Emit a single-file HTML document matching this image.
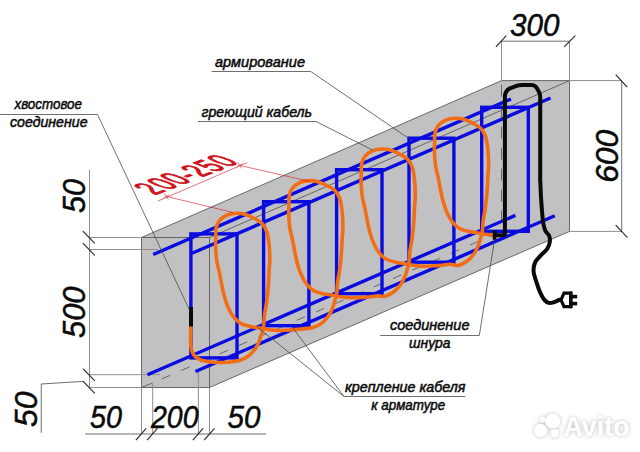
<!DOCTYPE html>
<html lang="ru">
<head>
<meta charset="utf-8">
<title>Схема укладки греющего кабеля</title>
<style>
html,body{margin:0;padding:0;background:#fff;}
body{width:640px;height:452px;overflow:hidden;font-family:"Liberation Sans",sans-serif;}
svg{display:block;}
</style>
</head>
<body>
<svg width="640" height="452" viewBox="0 0 640 452">
<polygon points="141.5,237.5 501.5,80.6 569.5,80.6 569.5,231.4 209.5,387.5 141.5,387.5" fill="#c1c1c3"/>
<g fill="none" stroke="#5a5a5a" stroke-width="0.9">
<path d="M141.5 237.5L501.5 80.6L569.5 80.6L569.5 231.4L209.5 387.5L141.5 387.5Z"/>
<path d="M141.5 237.5L209.5 237.5L209.5 387.5"/>
<path d="M209.5 237.5L569.5 80.6"/>
</g>
<g fill="none" stroke="#5a5a5a" stroke-width="0.9">
<path d="M141.5 387.5L152.5 383" />
<path d="M152.5 383L501.5 231.4" stroke-dasharray="9 12" stroke-dashoffset="-10.3"/>
<path d="M501.5 80.6L501.5 231.4" stroke-dasharray="12 9" stroke-dashoffset="-4"/>
</g>
<g fill="none" stroke="#8f8f8f" stroke-width="1">
<path d="M501.5 41V80.6M569.5 41V80.6"/>
<path d="M569.5 80.6H621.7M569.5 231.4H621.7"/>
<path d="M89.5 237.5H141.5M89.5 249.5H158M89.5 374.7H160M89.5 387.5H141.5"/>
<path d="M89.5 170V387.5"/>
<path d="M141.5 387V434M152.7 383.5V434M198.4 372V434M209.5 387V434"/>
</g>
<g fill="none" stroke="#6e6e6e" stroke-width="1">
<path d="M501.5 41.2H569.5"/>
<path d="M621.7 80.7V231.4"/>
<path d="M85 434H266"/>
<path d="M83.1 381.4L41.25 384V432.75"/>
</g>
<g fill="none" stroke="#2e2e2e" stroke-width="1.2">
<path d="M495.9 46.9L506.3 35.7M564.2 46.9L575.3 35.6"/>
<path d="M615.7 74.6L627.2 87.2M615.7 225.2L627.5 237.6"/>
<path d="M82.9 231.2L94.8 243.4"/>
<path d="M82.9 243.2L94.8 255.4"/>
<path d="M82.9 368.7L94.8 380.9"/>
<path d="M82.9 381.2L94.8 393.4"/>
<path d="M135.9 440.2L146.2 428.4"/>
<path d="M147.1 440.2L157.4 428.4"/>
<path d="M192.8 440.2L203.1 428.4"/>
<path d="M204.2 440.2L214.5 428.4"/>
</g>
<g fill="none" stroke="#0b0be0" stroke-width="3.4" stroke-linecap="butt">
<rect x="190.9" y="233.9" width="46.1" height="124"/>
<rect x="263.6" y="201.7" width="45.3" height="124"/>
<rect x="336.6" y="169.7" width="45.4" height="124"/>
<rect x="409.0" y="138.2" width="44.9" height="124"/>
<rect x="481.7" y="107.3" width="46.6" height="124"/>
<path d="M153.2 254.5L511 99"/>
<path d="M192 253.3L550.6 98"/>
<path d="M147.5 374.75L515.4 215.4"/>
<path d="M195.5 371.5L554.8 215.7"/>
</g>
<path d="M190.9 325.6C190.8 328.2 190.5 337.1 190.6 341.2C190.7 345.4 190.9 348.0 191.7 350.6C192.5 353.2 193.6 355.2 195.6 356.9C197.6 358.6 200.3 359.9 203.4 360.8C206.5 361.7 210.5 362.1 214.4 362.3C218.3 362.6 222.7 362.6 226.9 362.3C231.1 362.0 235.8 361.6 239.4 360.5C243.0 359.4 246.0 357.9 248.8 355.8C251.5 353.7 254.0 350.6 255.8 348.0C257.6 345.4 258.7 342.8 259.7 340.2C260.7 337.6 261.4 334.8 262.0 332.4C262.6 330.0 263.2 328.9 263.6 326.1C264.0 323.3 263.9 319.9 264.4 315.8C264.9 311.7 266.0 306.7 266.7 301.8C267.4 296.8 267.9 291.3 268.3 286.1C268.7 280.9 268.9 274.8 269.1 270.5C269.4 266.2 269.8 264.5 269.8 260.2C269.8 255.9 269.6 249.4 269.1 244.6C268.6 239.8 267.9 234.8 266.7 231.3C265.5 227.8 263.9 225.6 262.0 223.5C260.1 221.4 257.7 220.3 255.0 218.8C252.3 217.3 248.7 215.5 245.6 214.6C242.5 213.7 239.4 213.2 236.2 213.3C233.1 213.4 229.6 214.0 226.9 215.2C224.2 216.4 221.6 218.3 219.8 220.3C218.0 222.3 216.9 224.7 216.2 227.4C215.6 230.1 215.9 233.6 215.8 236.8C215.7 239.9 215.4 242.2 215.6 246.1C215.8 250.0 216.0 255.7 216.7 260.2C217.3 264.7 218.7 269.2 219.5 273.0C220.3 276.8 220.6 279.0 221.4 283.0C222.2 287.0 223.3 292.9 224.5 297.1C225.7 301.3 226.8 304.6 228.4 308.0C230.0 311.4 231.8 314.8 233.9 317.4C236.0 320.0 238.2 322.1 240.9 323.6C243.6 325.1 247.5 325.8 250.3 326.5C253.2 327.2 255.1 327.2 258.0 327.7C260.9 328.2 263.8 329.0 267.5 329.5C271.2 330.0 275.8 330.4 280.0 330.5C284.2 330.6 288.3 330.2 292.5 329.9C296.7 329.6 301.7 329.0 305.0 328.6C308.3 328.2 309.7 328.7 312.5 327.8C315.3 326.9 319.1 325.2 321.9 323.1C324.6 321.0 327.1 317.9 328.9 315.3C330.7 312.7 331.8 310.1 332.8 307.5C333.8 304.9 334.4 302.0 335.1 299.7C335.8 297.4 336.3 296.2 336.7 293.4C337.1 290.6 337.0 287.2 337.5 283.1C338.0 279.0 339.1 274.0 339.8 269.1C340.4 264.1 341.0 258.6 341.4 253.4C341.8 248.2 342.0 242.1 342.2 237.8C342.5 233.5 342.9 231.8 342.9 227.5C342.9 223.2 342.7 216.7 342.2 211.9C341.7 207.1 341.0 202.1 339.8 198.6C338.6 195.1 337.1 192.9 335.1 190.8C333.2 188.7 330.8 187.6 328.1 186.1C325.4 184.6 321.8 182.8 318.7 181.9C315.6 181.0 312.5 180.5 309.4 180.6C306.2 180.7 302.7 181.3 300.0 182.5C297.3 183.7 294.7 185.6 292.9 187.6C291.1 189.6 290.0 192.0 289.4 194.7C288.7 197.4 289.0 200.9 288.9 204.1C288.8 207.2 288.6 209.5 288.7 213.4C288.8 217.3 289.1 223.0 289.8 227.5C290.4 232.0 291.8 236.5 292.6 240.3C293.4 244.1 293.7 246.3 294.5 250.3C295.3 254.3 296.4 260.2 297.6 264.4C298.8 268.6 299.9 271.9 301.5 275.3C303.1 278.7 304.9 282.1 307.0 284.7C309.1 287.3 311.3 289.4 314.0 290.9C316.7 292.4 320.5 293.1 323.4 293.8C326.2 294.5 328.2 294.5 331.1 295.0C334.0 295.5 336.9 296.3 340.6 296.8C344.3 297.3 348.9 297.7 353.1 297.8C357.3 297.9 361.4 297.5 365.6 297.2C369.8 296.9 374.9 296.1 378.1 295.9C381.3 295.7 382.2 296.9 384.9 296.2C387.6 295.5 391.5 293.6 394.2 291.5C397.0 289.4 399.5 286.3 401.3 283.7C403.1 281.1 404.2 278.5 405.2 275.9C406.2 273.3 406.9 270.4 407.5 268.1C408.1 265.8 408.7 264.6 409.1 261.8C409.5 259.0 409.4 255.6 409.9 251.5C410.4 247.4 411.5 242.4 412.2 237.4C412.9 232.5 413.4 227.0 413.8 221.8C414.2 216.6 414.4 210.5 414.6 206.2C414.9 201.9 415.3 200.2 415.3 195.9C415.3 191.6 415.1 185.1 414.6 180.3C414.1 175.5 413.4 170.5 412.2 167.0C411.0 163.5 409.4 161.3 407.5 159.2C405.6 157.1 403.2 156.0 400.5 154.5C397.8 153.0 394.2 151.2 391.1 150.3C388.0 149.4 384.9 148.9 381.8 149.0C378.6 149.1 375.1 149.7 372.4 150.9C369.7 152.1 367.1 154.0 365.3 156.0C363.5 158.0 362.4 160.4 361.8 163.1C361.1 165.8 361.4 169.3 361.3 172.4C361.2 175.6 361.0 177.9 361.1 181.8C361.2 185.7 361.6 191.4 362.2 195.9C362.8 200.4 364.2 204.9 365.0 208.7C365.8 212.5 366.1 214.7 366.9 218.7C367.7 222.7 368.8 228.6 370.0 232.8C371.2 237.0 372.3 240.3 373.9 243.7C375.5 247.1 377.3 250.5 379.4 253.1C381.5 255.7 383.7 257.8 386.4 259.3C389.1 260.8 392.9 261.5 395.8 262.2C398.7 262.9 400.6 262.9 403.5 263.4C406.4 263.9 409.3 264.7 413.0 265.2C416.7 265.7 421.3 266.1 425.5 266.2C429.7 266.3 433.8 265.9 438.0 265.6C442.2 265.3 447.1 264.3 450.5 264.3C453.9 264.3 455.4 266.1 458.2 265.5C461.0 264.9 464.8 262.9 467.6 260.8C470.3 258.7 472.8 255.6 474.6 253.0C476.4 250.4 477.5 247.8 478.5 245.2C479.5 242.6 480.1 239.7 480.8 237.4C481.5 235.0 482.0 233.9 482.4 231.1C482.8 228.3 482.7 224.9 483.2 220.8C483.7 216.7 484.9 211.7 485.5 206.8C486.1 201.8 486.7 196.3 487.1 191.1C487.5 185.9 487.7 179.8 487.9 175.5C488.2 171.2 488.6 169.5 488.6 165.2C488.6 160.9 488.4 154.4 487.9 149.6C487.4 144.8 486.7 139.8 485.5 136.3C484.3 132.8 482.8 130.6 480.8 128.5C478.9 126.4 476.5 125.3 473.8 123.8C471.1 122.3 467.5 120.5 464.4 119.6C461.3 118.7 458.2 118.2 455.1 118.3C451.9 118.4 448.4 119.0 445.7 120.2C443.0 121.4 440.4 123.3 438.6 125.3C436.8 127.3 435.7 129.7 435.1 132.4C434.4 135.1 434.7 138.6 434.6 141.8C434.5 144.9 434.2 147.2 434.4 151.1C434.5 155.0 434.9 160.7 435.5 165.2C436.1 169.7 437.5 174.2 438.3 178.0C439.1 181.8 439.4 184.0 440.2 188.0C441.0 192.0 442.1 197.9 443.3 202.1C444.5 206.3 445.6 209.6 447.2 213.0C448.8 216.4 450.6 219.8 452.7 222.4C454.8 225.0 457.0 227.1 459.7 228.6C462.4 230.1 466.2 230.8 469.1 231.5C472.0 232.2 474.2 232.2 476.8 232.7C479.4 233.2 482.1 233.9 485.0 234.3C487.9 234.7 492.5 235.0 494.0 235.2" fill="none" stroke="#f26d14" stroke-width="3.6" stroke-linecap="round" stroke-linejoin="round"/>
<rect x="189" y="307" width="4" height="19.5" fill="#0a0a0a"/>
<rect x="492.7" y="230.6" width="3.8" height="9.2" fill="#0a0a0a"/>
<path d="M494.6 235.2H504.9V97C504.9 93 506.5 90.3 509.5 88.6L516.5 85.9C518.5 85.2 520 85 522 85H531C533.5 85 535 85.6 536.3 87.2L538.8 91.5C539.8 93.3 540.2 95 540.2 97.5V180" fill="none" stroke="#0a0a0a" stroke-width="4" stroke-linejoin="round"/>
<path d="M540.2 180.0C540.4 183.3 540.7 193.1 541.2 200.0C541.7 206.9 542.3 216.2 543.0 221.3C543.7 226.4 544.2 228.2 545.2 230.6C546.2 233.0 548.5 233.9 549.2 235.9C550.0 237.9 550.1 240.3 549.7 242.5C549.3 244.7 548.5 247.0 547.0 249.2C545.5 251.4 542.4 253.6 540.4 255.8C538.4 258.0 536.2 259.8 535.1 262.4C534.0 265.0 533.4 268.6 533.6 271.7C533.8 274.8 535.0 277.6 536.1 281.0C537.2 284.4 538.6 289.0 540.0 292.1C541.4 295.2 542.9 298.1 544.4 299.9C545.9 301.7 547.2 302.5 548.8 302.9C550.4 303.3 552.0 302.8 553.8 302.3C555.6 301.8 558.7 300.1 559.7 299.7" fill="none" stroke="#0a0a0a" stroke-width="4" stroke-linecap="round"/>
<path d="M561 299.9L564 293.2H570.6V306.6H564Z" fill="#fff" stroke="#0a0a0a" stroke-width="3.2" stroke-linejoin="miter"/>
<rect x="569.2" y="291.6" width="3.4" height="16.6" fill="#0a0a0a"/>
<rect x="572" y="294.8" width="5.2" height="3.6" fill="#0a0a0a"/><rect x="572" y="301.8" width="5.2" height="3.6" fill="#0a0a0a"/>
<g fill="none" stroke="#4a4a4a" stroke-width="0.8">
<path d="M0 114.5H97.5L189.5 310"/>
<path d="M211.7 71.5H310.8L408.8 138.5"/>
<path d="M198 121.5H316L372.5 150"/>
<path d="M380.2 335.5H479.3L494.6 239.5"/>
<path d="M465.4 396.5H344L256.3 326.3M344 396.5L292.5 327.5"/>
</g>
<g fill="none" stroke="#d0121b" stroke-width="0.7" opacity="0.85">
<path d="M157.9 201.1L247.2 162.6"/>
<path d="M166.3 196.4L233 212.5M239.7 165.4L310 181.5"/>
<path d="M164.3 193.4L168.3 199.4M163.5 198L169.1 194.8M237.7 162.4L241.7 168.4M236.9 167L242.5 163.8"/>
</g>
<g font-family="'Liberation Sans', sans-serif" stroke="#0a0a0a" stroke-width="0.5">
<text x="510" y="36" font-size="32" font-style="italic" font-weight="400" fill="#0a0a0a" textLength="49.5" lengthAdjust="spacingAndGlyphs">300</text>
<text x="0" y="0" transform="translate(85,213) rotate(-90)" font-size="32" font-style="italic" font-weight="400" fill="#0a0a0a" textLength="34" lengthAdjust="spacingAndGlyphs">50</text>
<text x="0" y="0" transform="translate(84.9,338) rotate(-90)" font-size="32" font-style="italic" font-weight="400" fill="#0a0a0a" textLength="51.5" lengthAdjust="spacingAndGlyphs">500</text>
<text x="0" y="0" transform="translate(37,427) rotate(-90)" font-size="32" font-style="italic" font-weight="400" fill="#0a0a0a" textLength="35.5" lengthAdjust="spacingAndGlyphs">50</text>
<text x="0" y="0" transform="translate(617.5,182.8) rotate(-90)" font-size="32" font-style="italic" font-weight="400" fill="#0a0a0a" textLength="53" lengthAdjust="spacingAndGlyphs">600</text>
<text x="90" y="428" font-size="32" font-style="italic" font-weight="400" fill="#0a0a0a" textLength="32" lengthAdjust="spacingAndGlyphs">50</text>
<text x="151" y="428" font-size="32" font-style="italic" font-weight="400" fill="#0a0a0a" textLength="47.5" lengthAdjust="spacingAndGlyphs">200</text>
<text x="227.6" y="428" font-size="32" font-style="italic" font-weight="400" fill="#0a0a0a" textLength="33" lengthAdjust="spacingAndGlyphs">50</text>
<text x="14.5" y="108.8" font-size="14.5" font-style="italic" font-weight="400" fill="#0a0a0a" textLength="67.5" lengthAdjust="spacingAndGlyphs">хвостовое</text>
<text x="10" y="127.3" font-size="14.5" font-style="italic" font-weight="400" fill="#0a0a0a" textLength="77.5" lengthAdjust="spacingAndGlyphs">соединение</text>
<text x="215" y="67.2" font-size="14.5" font-style="italic" font-weight="400" fill="#0a0a0a" textLength="90" lengthAdjust="spacingAndGlyphs">армирование</text>
<text x="201.5" y="116.6" font-size="14.5" font-style="italic" font-weight="400" fill="#0a0a0a" textLength="110.5" lengthAdjust="spacingAndGlyphs">греющий кабель</text>
<text x="390" y="330.2" font-size="14.5" font-style="italic" font-weight="400" fill="#0a0a0a" textLength="79.5" lengthAdjust="spacingAndGlyphs">соединение</text>
<text x="409" y="348.3" font-size="14.5" font-style="italic" font-weight="400" fill="#0a0a0a" textLength="41.5" lengthAdjust="spacingAndGlyphs">шнура</text>
<text x="345" y="391.6" font-size="14.5" font-style="italic" font-weight="400" fill="#0a0a0a" textLength="120.5" lengthAdjust="spacingAndGlyphs">крепление кабеля</text>
<text x="371.3" y="409.8" font-size="14.5" font-style="italic" font-weight="400" fill="#0a0a0a" textLength="74" lengthAdjust="spacingAndGlyphs">к арматуре</text>
<text transform="matrix(0.934,-0.358,1.5,0.545,155,195.3)" font-size="23" font-weight="400" letter-spacing="1.1" fill="#d0121b" stroke="#d0121b" stroke-width="0.9" stroke-linejoin="round">200-250</text>
</g>
<g style="filter:drop-shadow(0 0.5px 1.9px rgba(0,0,0,0.26))" fill="#fff">
<circle cx="552.8" cy="421" r="7.6"/><circle cx="540.6" cy="430.3" r="6.6"/><circle cx="542.5" cy="419.6" r="2.9"/><circle cx="554.7" cy="433.3" r="4.1"/>
<text x="563.5" y="436" font-family="'Liberation Sans', sans-serif" font-size="28" font-weight="700" textLength="66" lengthAdjust="spacingAndGlyphs">Avito</text>
</g>
</svg>
</body>
</html>
